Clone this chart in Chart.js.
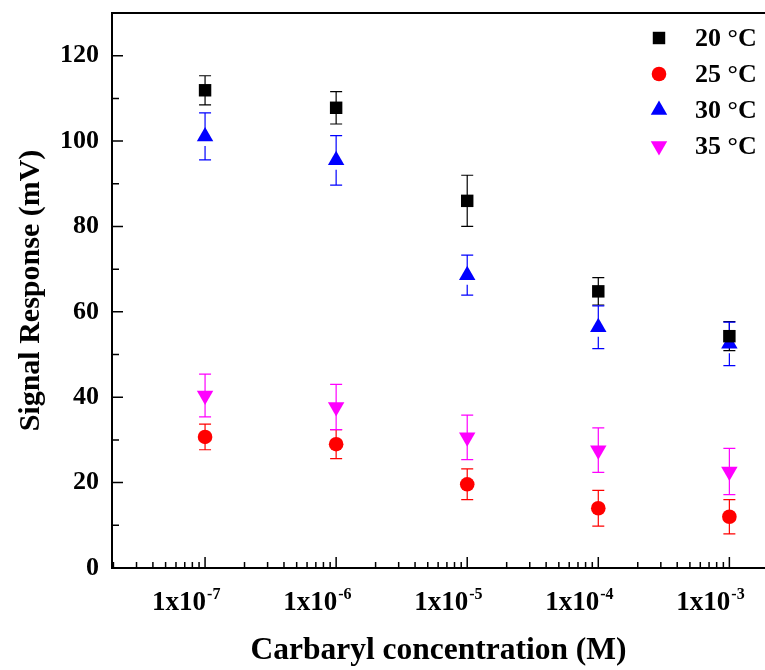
<!DOCTYPE html>
<html><head><meta charset="utf-8">
<script src="https://cdn.jsdelivr.net/npm/chart.js@4.4.0/dist/chart.umd.min.js"></script>
<style>html,body{margin:0;padding:0;background:#fff}canvas{display:block}</style>
</head><body>
<canvas id="c" width="765" height="670"></canvas>
<script>
// ---- data ----
const concentrations = [1e-7, 1e-6, 1e-5, 1e-4, 1e-3];
const xTickExponents = ['-7', '-6', '-5', '-4', '-3'];
const seriesLabels = ['20 °C', '25 °C', '30 °C', '35 °C'];
const resp20 = [111.9, 107.8, 86.0, 64.8, 54.3];
const err20  = [3.4, 3.8, 6.0, 3.2, 3.4];
const resp25 = [30.7, 29.0, 19.6, 14.0, 12.0];
const err25  = [3.0, 3.4, 3.6, 4.2, 4.0];
const resp30 = [101.1, 95.5, 68.6, 56.4, 52.5];
const err30  = [5.5, 5.8, 4.7, 5.0, 5.1];
const resp35 = [40.4, 37.7, 30.6, 27.6, 22.6];
const err35  = [5.0, 5.3, 5.2, 5.2, 5.4];
const yTicks = [0, 20, 40, 60, 80, 100, 120];
const yMinorTicks = [10, 30, 50, 70, 90, 110];

const SERIF = '"Liberation Serif","Times New Roman",serif';
const colors = ['#000000', '#ff0000', '#0000ff', '#ff00ff'];
const styles = ['rect', 'circle', 'triangle', 'triangle'];
const radii = [8.8, 7.3, 9.5, 9.5];
const rotations = [0, 0, 0, 180];
const values = [resp20, resp25, resp30, resp35];
const errors = [err20, err25, err30, err35];

const datasets = values.map((vals, i) => ({
  label: seriesLabels[i],
  data: vals.map((v, j) => ({x: concentrations[j], y: v})),
  errors: errors[i],
  showLine: false,
  pointStyle: styles[i],
  pointRadius: radii[i],
  pointRotation: rotations[i],
  pointBackgroundColor: colors[i],
  pointBorderColor: colors[i],
  pointBorderWidth: 0
}));

const errPlugin = {
  id: 'errbars',
  beforeDatasetsDraw(chart) {
    const ctx = chart.ctx, xs = chart.scales.x, ys = chart.scales.y;
    chart.data.datasets.forEach((ds, i) => {
      ctx.save();
      ctx.strokeStyle = ds.pointBackgroundColor;
      ctx.lineWidth = 1.2;
      const gapLow = (ds.pointStyle === 'triangle' && ds.pointRotation === 0) ? ds.pointRadius : 0;
      ds.data.forEach((p, j) => {
        const px = xs.getPixelForValue(p.x);
        const py = ys.getPixelForValue(p.y);
        const yt = ys.getPixelForValue(p.y + ds.errors[j]);
        const yb = ys.getPixelForValue(p.y - ds.errors[j]);
        ctx.beginPath();
        ctx.moveTo(px, yt); ctx.lineTo(px, py);
        ctx.moveTo(px, py + gapLow); ctx.lineTo(px, yb);
        ctx.moveTo(px - 6, yt); ctx.lineTo(px + 6, yt);
        ctx.moveTo(px - 6, yb); ctx.lineTo(px + 6, yb);
        ctx.stroke();
      });
      ctx.restore();
    });
  }
};

function marker(ctx, style, r, rot, x, y, color) {
  const H = (window.Chart && Chart.helpers && Chart.helpers.drawPoint);
  ctx.save();
  ctx.fillStyle = color; ctx.strokeStyle = color;
  if (H) {
    Chart.helpers.drawPoint(ctx, {pointStyle: style, radius: r, rotation: rot, borderWidth: 0}, x, y);
  } else {
    ctx.beginPath();
    if (style === 'circle') ctx.arc(x, y, r, 0, Math.PI * 2);
    else if (style === 'rect') { const s = Math.SQRT1_2 * r; ctx.rect(x - s, y - s, 2 * s, 2 * s); }
    else {
      let a = rot * Math.PI / 180;
      ctx.moveTo(x + Math.sin(a) * r, y - Math.cos(a) * r);
      a += 2 * Math.PI / 3; ctx.lineTo(x + Math.sin(a) * r, y - Math.cos(a) * r);
      a += 2 * Math.PI / 3; ctx.lineTo(x + Math.sin(a) * r, y - Math.cos(a) * r);
      ctx.closePath();
    }
    ctx.fill();
  }
  ctx.restore();
}

const axesPlugin = {
  id: 'axes',
  afterDraw(chart) {
    const ctx = chart.ctx, xs = chart.scales.x, ys = chart.scales.y, a = chart.chartArea;
    ctx.save();
    ctx.strokeStyle = '#000'; ctx.lineWidth = 2;
    ctx.beginPath();
    ctx.moveTo(a.left, a.top); ctx.lineTo(a.right, a.top);
    ctx.moveTo(a.left, a.top - 1); ctx.lineTo(a.left, a.bottom + 1);
    ctx.moveTo(a.left - 1, a.bottom); ctx.lineTo(a.right, a.bottom);
    ctx.stroke();
    ctx.lineWidth = 1.5;
    ctx.beginPath();
    yTicks.forEach(v => { const y = ys.getPixelForValue(v); ctx.moveTo(a.left, y); ctx.lineTo(a.left + 11, y); });
    yMinorTicks.forEach(v => { const y = ys.getPixelForValue(v); ctx.moveTo(a.left, y); ctx.lineTo(a.left + 7, y); });
    for (let e = -8; e <= -3; e++) {
      for (let k = 1; k <= 9; k++) {
        const v = k * Math.pow(10, e);
        if (v < xs.min || v > xs.max) continue;
        const x = xs.getPixelForValue(v);
        ctx.moveTo(x, a.bottom); ctx.lineTo(x, a.bottom - (k === 1 ? 11 : 6));
      }
    }
    ctx.stroke();
    ctx.fillStyle = '#000';
    concentrations.forEach((c, i) => {
      const x = xs.getPixelForValue(c);
      ctx.font = 'bold 27px ' + SERIF;
      ctx.textAlign = 'right'; ctx.textBaseline = 'alphabetic';
      ctx.fillText('1x10', x + 1, 610);
      ctx.font = 'bold 16px ' + SERIF;
      ctx.textAlign = 'left';
      ctx.fillText(xTickExponents[i], x + 2, 599);
    });
    chart.data.datasets.forEach((ds, i) => {
      const y = 38 + 36 * i;
      marker(ctx, ds.pointStyle, ds.pointRadius, ds.pointRotation, 659, y, ds.pointBackgroundColor);
      ctx.fillStyle = '#000';
      ctx.font = 'bold 26px ' + SERIF;
      ctx.textAlign = 'left'; ctx.textBaseline = 'middle';
      ctx.fillText(ds.label, 695, y + 1);
    });
    ctx.restore();
  }
};

new Chart(document.getElementById('c'), {
  type: 'scatter',
  data: {datasets},
  options: {
    responsive: false, animation: false, events: [],
    layout: {autoPadding: false, padding: {top: 13, left: 0, right: 0, bottom: 0}},
    plugins: {legend: {display: false}, tooltip: {enabled: false}},
    scales: {
      x: {
        type: 'logarithmic', min: 1.95e-8, max: 1.87e-3,
        grid: {display: false, drawTicks: false}, border: {display: false},
        ticks: {display: false},
        title: {display: true, text: 'Carbaryl concentration (M)', color: '#000',
                font: {family: SERIF, size: 31.5, weight: 'bold'}, padding: {top: 0, bottom: 0}},
        afterFit(s) { s.height = 102; s.paddingLeft = 0; s.paddingRight = 0; }
      },
      y: {
        min: 0, max: 130,
        afterBuildTicks(s) { s.ticks = yTicks.map(v => ({value: v})); },
        grid: {display: false, drawTicks: false}, border: {display: false},
        ticks: {color: '#000', font: {family: SERIF, size: 26, weight: 'bold'}, padding: 13},
        title: {display: true, text: 'Signal Response (mV)', color: '#000',
                font: {family: SERIF, size: 30, weight: 'bold'}, padding: {top: 13, bottom: 0}},
        afterFit(s) { s.width = 112; s.paddingTop = 0; s.paddingBottom = 0; }
      }
    }
  },
  plugins: [errPlugin, axesPlugin]
});
</script>
</body></html>
